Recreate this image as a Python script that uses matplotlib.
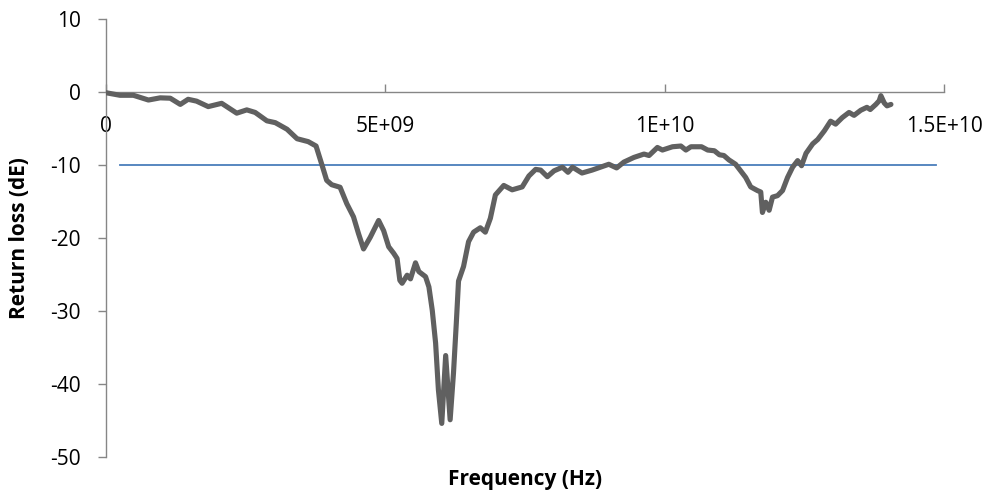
import matplotlib
matplotlib.use("Agg")
import matplotlib.pyplot as plt
import numpy as np

# Frequency in GHz (converted to Hz below) and return loss values
freq_ghz = [0.00, 0.25, 0.49, 0.76, 0.97, 1.15, 1.33, 1.47, 1.62, 1.83, 2.07, 2.34, 2.52, 2.67,
            2.88, 3.03, 3.24, 3.42, 3.62, 3.76, 3.87, 3.95, 4.04, 4.19, 4.31, 4.43, 4.52, 4.61,
            4.73, 4.88, 4.97, 5.06, 5.15, 5.21, 5.26, 5.30, 5.39, 5.45, 5.54, 5.60, 5.72, 5.78,
            5.84, 5.90, 5.95, 6.01, 6.08, 6.16, 6.22, 6.27, 6.31, 6.40, 6.49, 6.58, 6.70, 6.79,
            6.88, 6.97, 7.12, 7.27, 7.45, 7.57, 7.69, 7.78, 7.90, 8.02, 8.17, 8.27, 8.35, 8.52,
            8.70, 8.85, 9.00, 9.14, 9.27, 9.45, 9.63, 9.72, 9.87, 9.96, 10.14, 10.29, 10.38,
            10.47, 10.66, 10.77, 10.89, 10.98, 11.06, 11.15, 11.27, 11.36, 11.45, 11.54, 11.66,
            11.72, 11.75, 11.81, 11.87, 11.93, 12.02, 12.11, 12.20, 12.29, 12.38, 12.45, 12.53,
            12.65, 12.74, 12.86, 12.97, 13.06, 13.18, 13.30, 13.39, 13.51, 13.62, 13.68, 13.78,
            13.84, 13.87, 13.93, 13.98, 14.05]
return_loss = [-0.1, -0.45, -0.45, -1.1, -0.8, -0.85, -1.7, -1.0, -1.25, -2.0, -1.55, -2.9, -2.45, -2.8,
               -3.95, -4.2, -5.1, -6.4, -6.8, -7.4, -10.1, -12.1, -12.7, -13.05, -15.3, -17.1, -19.4, -21.5,
               -19.9, -17.6, -19.0, -21.2, -22.1, -22.8, -25.8, -26.2, -25.1, -25.6, -23.4, -24.6, -25.3, -26.7,
               -29.9, -34.4, -40.8, -45.4, -36.1, -44.9, -38.5, -31.7, -25.9, -23.9, -20.5, -19.2, -18.6, -19.2,
               -17.3, -14.1, -12.8, -13.4, -13.0, -11.5, -10.6, -10.7, -11.6, -10.8, -10.3, -11.0, -10.3, -11.1,
               -10.7, -10.3, -9.9, -10.4, -9.6, -8.96, -8.5, -8.7, -7.6, -7.95, -7.5, -7.4, -7.95,
               -7.5, -7.5, -7.95, -8.05, -8.6, -8.7, -9.3, -9.9, -10.8, -11.7, -13.0, -13.5,
               -13.7, -16.5, -15.1, -16.2, -14.4, -14.2, -13.5, -11.7, -10.3, -9.4, -10.1, -8.4,
               -7.1, -6.5, -5.3, -4.0, -4.4, -3.5, -2.8, -3.2, -2.5, -2.1, -2.4, -1.7,
               -1.2, -0.5, -1.5, -1.9, -1.7]

threshold_x = [0.25e9, 14.85e9]
threshold_y = [-10, -10]

y_ticks = [10, 0, -10, -20, -30, -40, -50]
x_ticks = [0, 5e9, 1e10, 1.5e10]
x_tick_labels = ["0", "5E+09", "1E+10", "1.5E+10"]

plt.rcParams['font.family'] = ['Open Sans', 'DejaVu Sans']

fig = plt.figure(figsize=(9.94, 4.97), dpi=100)
ax = fig.add_axes([106/994, 1-457/497, (944-106)/994, (457-19)/497])

freq_hz = np.array(freq_ghz) * 1e9
ax.plot(freq_hz, return_loss, color='#606060', lw=3.7, solid_joinstyle='round', solid_capstyle='round', zorder=3)
ax.plot(threshold_x, threshold_y, color='#4a7ebb', lw=1.3, zorder=2)

ax.set_xlim(0, 1.5e10)
ax.set_ylim(-50, 10)

spine_color = '#868686'
for s in ['top', 'right']:
    ax.spines[s].set_visible(False)
ax.spines['left'].set_color(spine_color)
ax.spines['bottom'].set_color(spine_color)
ax.spines['left'].set_linewidth(1.0)
ax.spines['bottom'].set_linewidth(1.0)
ax.spines['bottom'].set_position(('data', 0))

ax.set_yticks(y_ticks)
ax.set_yticklabels([str(v) for v in y_ticks])
ax.set_xticks(x_ticks)
ax.set_xticklabels(x_tick_labels)

ax.tick_params(axis='y', direction='out', length=6, width=1.0, color=spine_color, pad=12, labelsize=15, labelcolor='black')
ax.tick_params(axis='x', direction='in', length=6, width=1.0, color=spine_color, pad=17, labelsize=15, labelcolor='black')

fig.text(525/994, 1-480/497, 'Frequency (Hz)', ha='center', va='center', fontsize=15, fontweight='bold')
fig.text(20/994, 1-238/497, 'Return loss (dE)', ha='center', va='center', rotation=90, fontsize=15, fontweight='bold')

fig.savefig('out.png', dpi=100)
